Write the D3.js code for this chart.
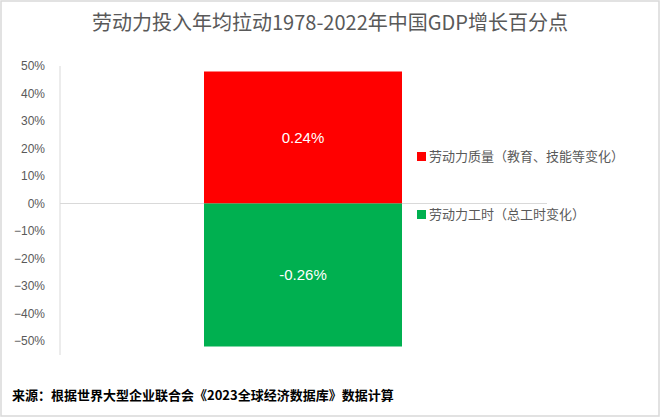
<!DOCTYPE html>
<html><head><meta charset="utf-8">
<script src="https://cdn.jsdelivr.net/npm/d3@7"></script>
<style>body{margin:0;background:#fff}</style></head>
<body><svg id="c" width="660" height="417"></svg>
<script>
const ticks = [0.5,0.4,0.3,0.2,0.1,0,-0.1,-0.2,-0.3,-0.4,-0.5];
const seriesNames = ["劳动力质量（教育、技能等变化）","劳动力工时（总工时变化）"];
const seriesShares = [0.48,-0.52];
const seriesLabels = ["0.24%","-0.26%"];
const colors = ["#ff0000","#00b050"];
const svg = d3.select("#c");
svg.append("rect").attr("x",1).attr("y",1).attr("width",658).attr("height",415).attr("fill","#fff").attr("stroke","#d9d9d9").attr("stroke-width",1.5);
svg.append("text").attr("x",330).attr("y",30).attr("text-anchor","middle").attr("fill","#595959")
  .attr("font-family","Noto Sans CJK SC").attr("font-size",20).text("劳动力投入年均拉动1978-2022年中国GDP增长百分点");
const y = d3.scaleLinear().domain([-0.5,0.5]).range([341,66]);
const x = d3.scaleBand().domain(["a"]).range([60,547]).paddingInner(0).paddingOuter(0.3);
const ax = svg.append("g").attr("transform","translate(60,0)").call(d3.axisLeft(y).tickValues(ticks).tickFormat(d3.format(".0%")).tickSize(0).tickPadding(15));
ax.select(".domain").remove();
ax.selectAll("text").attr("font-family","Liberation Sans").attr("font-size",12).attr("fill","#595959");
svg.append("line").attr("x1",60).attr("x2",60).attr("y1",y(0.5)).attr("y2",y(-0.5)-0.0+14).attr("stroke","#d9d9d9");
svg.append("line").attr("x1",60).attr("x2",547).attr("y1",y(0)).attr("y2",y(0)).attr("stroke","#d9d9d9");
const bx = 204, bw = 198;
seriesShares.forEach((v,i)=>{
  svg.append("rect").attr("x",bx).attr("width",bw).attr("y",y(Math.max(0,v))).attr("height",Math.abs(y(v)-y(0))).attr("fill",colors[i]);
  svg.append("text").attr("x",bx+bw/2).attr("y",(y(v)+y(0))/2+5).attr("text-anchor","middle").attr("fill","#fff")
    .attr("font-family","Liberation Sans").attr("font-size",15).text(seriesLabels[i]);
  const ly = [157,215][i];
  svg.append("rect").attr("x",417).attr("y",ly-5).attr("width",9).attr("height",9).attr("fill",colors[i]);
  svg.append("text").attr("x",429).attr("y",ly+4).attr("fill","#595959").attr("font-family","Noto Sans CJK SC").attr("font-size",13).text(seriesNames[i]);
});
svg.append("text").attr("x",12).attr("y",400).attr("fill","#000").attr("font-weight","bold").attr("font-family","Noto Sans CJK SC").attr("font-size",13)
  .text("来源：根据世界大型企业联合会《2023全球经济数据库》数据计算");
</script></body></html>
